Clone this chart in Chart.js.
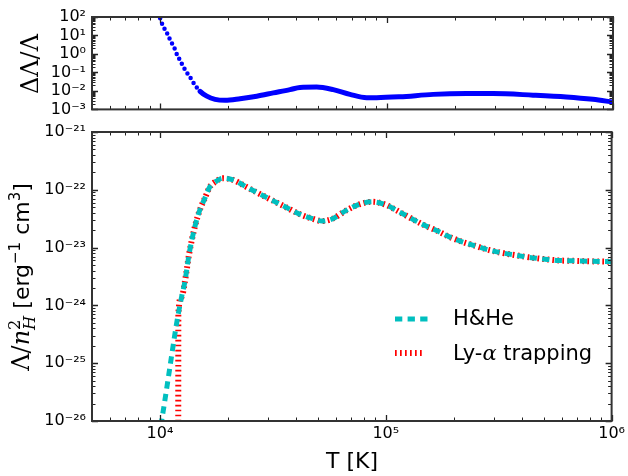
<!DOCTYPE html>
<html><head><meta charset="utf-8">
<script src="https://cdn.jsdelivr.net/npm/chart.js@4.4.1/dist/chart.umd.min.js"></script>
<style>
html,body{margin:0;padding:0;background:#fff;}
#wrap{position:relative;width:628px;height:476px;overflow:hidden;font-family:"DejaVu Sans",sans-serif;color:#000;}
canvas{position:absolute;left:0;top:0;}
.lbl{position:absolute;white-space:nowrap;line-height:1;}
.rot{transform:translate(-50%,-50%) rotate(-90deg);}
.math{font-family:"DejaVu Serif",serif;}
.ss{display:inline-block;vertical-align:middle;font-size:0.68em;line-height:0.95;text-align:left;}
.ss span{display:block;}
sup{font-size:0.68em;vertical-align:0.55em;line-height:0;}
#legend{position:absolute;left:0;top:0;}
</style></head><body>
<div id="wrap">
<canvas id="cBot" width="628" height="476"></canvas>
<canvas id="cTop" width="628" height="125"></canvas>
<div class="lbl rot math" id="ytTop" style="left:30px;top:64px;font-size:24px;">ΔΛ/Λ</div>
<div class="lbl rot" id="ytBot" style="left:22px;top:277px;font-size:22px;"><span class="math" style="font-size:24px;">Λ/<i>n</i><span class="ss"><span>2</span><span><i>H</i></span></span></span> [erg<sup>−1</sup> cm<sup>3</sup>]</div>
<div class="lbl" id="xt" style="left:352px;top:450px;font-size:22px;transform:translateX(-50%);">T [K]</div>
<svg id="legend" width="628" height="476">
<line x1="395" y1="319" x2="428" y2="319" stroke="#00BFBF" stroke-width="5" stroke-dasharray="7.3 5.3"/>
<line x1="395" y1="353" x2="424" y2="353" stroke="#FF0000" stroke-width="6" stroke-dasharray="1.7 3.3"/>
</svg>
<div class="lbl" style="left:453px;top:308px;font-size:21px;">H&amp;He</div>
<div class="lbl" style="left:453px;top:343px;font-size:21px;">Ly-<span class="math" style="font-style:italic;">α</span> trapping</div>
</div>
<script>
// ---- data ----
const tempTop = [1.0e4, 1.017e4, 1.041e4, 1.071e4, 1.099e4, 1.126e4, 1.156e4, 1.192e4, 1.225e4, 1.267e4, 1.311e4, 1.366e4, 1.427e4, 1.501e4, 1.607e4, 1.748e4, 1.935e4, 2.254e4, 2.671e4, 3.161e4, 3.745e4, 4.146e4, 4.911e4, 5.815e4, 6.890e4, 8.163e4, 9.035e4, 1.145e5, 1.606e5, 2.254e5, 2.953e5, 4.435e5, 6.223e5, 8.154e5, 1.0e6];
const relDiff = [85, 46.8, 25.7, 13.8, 6.9, 3.8, 2.09, 0.81, 0.447, 0.2, 0.1, 0.048, 0.02, 0.0095, 0.0052, 0.0035, 0.0031, 0.0038, 0.0052, 0.0078, 0.0117, 0.0155, 0.0162, 0.0117, 0.0065, 0.0043, 0.0043, 0.0048, 0.0065, 0.0072, 0.0072, 0.0059, 0.0047, 0.0035, 0.0025];

const tempHHe = [9.90e3, 1.017e4, 1.041e4, 1.088e4, 1.133e4, 1.185e4, 1.247e4, 1.289e4, 1.347e4, 1.427e4, 1.501e4, 1.579e4, 1.662e4, 1.779e4, 1.891e4, 2.107e4, 2.414e4, 2.761e4, 3.161e4, 3.614e4, 4.146e4, 4.742e4, 5.251e4, 5.815e4, 6.658e4, 7.625e4, 8.728e4, 1.0e5, 1.145e5, 1.289e5, 1.476e5, 1.689e5, 1.902e5, 2.177e5, 2.495e5, 2.856e5, 3.268e5, 3.746e5, 4.287e5, 5.08e5, 5.815e5, 6.89e5, 7.885e5, 1.0e6];
const coolHHe = [5.0e-27, 1.0e-26, 1.78e-26, 5.5e-26, 1.58e-25, 4.9e-25, 1.41e-24, 2.57e-24, 7.9e-24, 2.29e-23, 4.47e-23, 7.1e-23, 1.12e-22, 1.41e-22, 1.58e-22, 1.48e-22, 1.12e-22, 8.5e-23, 6.5e-23, 5.0e-23, 3.8e-23, 3.16e-23, 2.88e-23, 3.16e-23, 4.37e-23, 5.6e-23, 6.2e-23, 5.5e-23, 4.17e-23, 3.24e-23, 2.45e-23, 1.95e-23, 1.55e-23, 1.26e-23, 1.07e-23, 9.1e-24, 8.1e-24, 7.4e-24, 6.8e-24, 6.3e-24, 6.0e-24, 5.9e-24, 5.8e-24, 5.7e-24];

// Ly-alpha trapping: sharp rise near 1.2e4 K, then coincides with H&He
const tempLya = [1.204e4, 1.206e4].concat(tempHHe.slice(6));
const coolLya = [1.0e-28, 7.1e-25].concat(coolHHe.slice(6));

const xTicks = [1e4, 1e5, 1e6];
const yTopTicks = [1e-3, 1e-2, 1e-1, 1e0, 1e1, 1e2];
const yBotTicks = [1e-26, 1e-25, 1e-24, 1e-23, 1e-22, 1e-21];
const seriesNames = ['H&He', 'Ly-α trapping'];

// ---- helpers ----
const SUP = {'-':'⁻','0':'⁰','1':'¹','2':'²','3':'³','4':'⁴','5':'⁵','6':'⁶','7':'⁷','8':'⁸','9':'⁹'};
function powLabel(v){ const e = Math.round(Math.log10(v)); return '10' + String(e).split('').map(c => SUP[c]).join(''); }
function pts(xs, ys){ return xs.map((x, i) => ({x: x, y: ys[i]})); }
function logTicks(min, max){
  const out = [];
  for (let n = Math.floor(Math.log10(min)) - 1; n <= Math.ceil(Math.log10(max)); n++) {
    for (let k = 1; k <= 9; k++) {
      const v = k * Math.pow(10, n);
      if (v >= min * (1 - 1e-9) && v <= max * (1 + 1e-9)) out.push({v: v, major: k === 1});
    }
  }
  return out;
}
const frameTicks = {
  id: 'frameTicks',
  afterDatasetsDraw(chart) {
    const {ctx, chartArea: a, scales} = chart;
    const xs = scales.x, ys = scales.y;
    ctx.save();
    ctx.strokeStyle = '#222';
    for (const t of logTicks(xs.min, xs.max)) {
      const px = Math.round(xs.getPixelForValue(t.v)) + 0.5;
      const L = t.major ? 6 : 3.5;
      ctx.lineWidth = t.major ? 1.3 : 1;
      ctx.beginPath();
      ctx.moveTo(px, a.bottom); ctx.lineTo(px, a.bottom - L);
      ctx.moveTo(px, a.top); ctx.lineTo(px, a.top + L);
      ctx.stroke();
    }
    for (const t of logTicks(ys.min, ys.max)) {
      const py = Math.round(ys.getPixelForValue(t.v)) + 0.5;
      const L = t.major ? 6 : 3.5;
      ctx.lineWidth = t.major ? 1.3 : 1;
      ctx.beginPath();
      ctx.moveTo(a.left, py); ctx.lineTo(a.left + L, py);
      ctx.moveTo(a.right, py); ctx.lineTo(a.right - L, py);
      ctx.stroke();
    }
    ctx.lineWidth = 2;
    ctx.strokeStyle = '#333';
    ctx.strokeRect(a.left, a.top, a.right - a.left, a.bottom - a.top);
    ctx.restore();
  }
};
const tickFont = {family: 'DejaVu Sans', size: 16};
function xScale(showLabels){
  return {
    type: 'logarithmic', min: 5000, max: 1e6,
    grid: {display: false, drawTicks: false}, border: {display: false},
    ticks: {display: showLabels, autoSkip: false, maxRotation: 0, padding: 3, color: '#000', font: tickFont, callback: v => powLabel(v)},
    afterBuildTicks: s => { s.ticks = xTicks.map(v => ({value: v})); },
    afterFit: s => { s.height = showLabels ? 30 : 0; }
  };
}
function yScale(min, max, ticksArr){
  return {
    type: 'logarithmic', min: min, max: max,
    grid: {display: false, drawTicks: false}, border: {display: false},
    ticks: {autoSkip: false, padding: 6, color: '#000', font: tickFont, callback: v => powLabel(v)},
    afterBuildTicks: s => { s.ticks = ticksArr.map(v => ({value: v})); },
    afterFit: s => { s.width = 92; }
  };
}
const common = {
  responsive: false, animation: false, events: [],
  plugins: {legend: {display: false}, tooltip: {enabled: false}}
};
const steep = c => Math.abs(c.p1.y - c.p0.y) > 1.0 * Math.abs(c.p1.x - c.p0.x);

new Chart(document.getElementById('cTop'), {
  type: 'line',
  data: {datasets: [{
    label: 'ΔΛ/Λ', data: pts(tempTop, relDiff),
    borderColor: '#0000FF', borderWidth: 5, pointRadius: 0,
    cubicInterpolationMode: 'monotone', borderCapStyle: 'round', borderJoinStyle: 'round',
    segment: {
      borderDash: c => steep(c) ? [0, 5.6] : undefined,
      borderWidth: c => steep(c) ? 4.5 : undefined
    }
  }]},
  options: Object.assign({}, common, {
    layout: {padding: {left: 0, right: 15, top: 17, bottom: 13}},
    scales: {x: xScale(false), y: yScale(1e-3, 1e2, yTopTicks)}
  }),
  plugins: [frameTicks]
});

new Chart(document.getElementById('cBot'), {
  type: 'line',
  data: {datasets: [
    {label: seriesNames[0], data: pts(tempHHe, coolHHe), borderColor: '#00BFBF', borderWidth: 5,
     borderDash: [7.3, 5.3], borderCapStyle: 'butt', pointRadius: 0, cubicInterpolationMode: 'monotone'},
    {label: seriesNames[1], data: pts(tempLya, coolLya), borderColor: '#FF0000', borderWidth: 6,
     borderDash: [1.7, 3.3], borderCapStyle: 'butt', pointRadius: 0, cubicInterpolationMode: 'monotone'}
  ]},
  options: Object.assign({}, common, {
    layout: {padding: {left: 0, right: 15, top: 132, bottom: 25}},
    scales: {x: xScale(true), y: yScale(1e-26, 1e-21, yBotTicks)}
  }),
  plugins: [frameTicks]
});
</script>
</body></html>
